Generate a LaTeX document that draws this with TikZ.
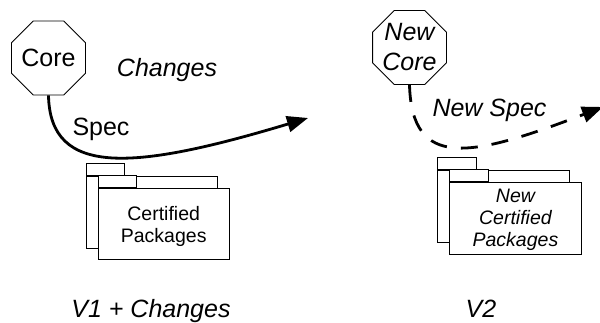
\documentclass[tikz,border=0pt]{standalone}
\usepackage{fontspec}
\setmainfont{Liberation Sans}
\usetikzlibrary{shapes.geometric,arrows.meta}
\begin{document}
\begin{tikzpicture}[x=1pt,y=-1pt,
  oct/.style={draw, line width=0.9pt, regular polygon, regular polygon sides=8, minimum size=80pt, inner sep=0pt, fill=white},
  big/.style={font=\fontsize{25}{30}\selectfont, inner sep=0pt},
  bigit/.style={font=\fontsize{25}{30}\selectfont\itshape, inner sep=0pt, align=center},
  pkgbox/.style={draw, line width=0.9pt, fill=white, inner sep=0pt},
  pkgtext/.style={font=\fontsize{19.5}{22}\selectfont, align=center, inner sep=0pt},
  conn/.style={line width=2.8pt, -{Triangle[length=21pt,width=16pt]}},
]
\useasboundingbox (0,0) rectangle (600,323);
% ---------- left: V1 + Changes ----------
\node[oct] (lcore) at (48.5,58) {};
\node[big, anchor=base] (lcoretxt) at (48.5,67) {Core};
\node[pkgbox, anchor=north west, minimum width=131pt, minimum height=72pt] (lbackbody) at (86,176) {};
\node[pkgbox, anchor=south west, minimum width=38pt, minimum height=12pt] (lbacktab) at (86,176) {};
\node[pkgbox, anchor=north west, minimum width=131.5pt, minimum height=71pt] (lfront) at (97.5,188) {};
\node[pkgbox, anchor=south west, minimum width=38.5pt, minimum height=12pt] (lfronttab) at (97.5,188) {};
\node[pkgtext] (lpkgtxt) at ([yshift=-2.5pt]lfront.center) {Certified\\Packages};
\node[bigit, anchor=base] (changes) at (167,77) {Changes};
\node[big, anchor=base] (spec) at (101,136) {Spec};
\node[bigit, anchor=base] (v1) at (151,317) {V1 + Changes};
\coordinate (ltip) at (308,118);
\draw[conn] (lcore.south) .. controls (50,178) and (135,170) .. (ltip);
% ---------- right: V2 ----------
\node[oct] (rcore) at (409.5,47.5) {};
\node[bigit] (rcoretxt) at (409.5,47.5) {New\\Core};
\node[pkgbox, anchor=north west, minimum width=132pt, minimum height=72pt] (rbackbody) at (437,170) {};
\node[pkgbox, anchor=south west, minimum width=39pt, minimum height=12pt] (rbacktab) at (437,170) {};
\node[pkgbox, anchor=north west, minimum width=132pt, minimum height=72pt] (rfront) at (449,182) {};
\node[pkgbox, anchor=south west, minimum width=39pt, minimum height=12pt] (rfronttab) at (449,182) {};
\node[pkgtext, font=\fontsize{19.5}{22}\selectfont\itshape] (rpkgtxt) at ([yshift=-1.5pt]rfront.center) {New\\Certified\\Packages};
\node[bigit, anchor=base] (newspec) at (489.5,117) {New Spec};
\node[bigit, anchor=base] (v2) at (481,317) {V2};
\coordinate (rtip) at (603,107);
\draw[conn, dash pattern=on 17pt off 14pt] (rcore.south) .. controls (412,170) and (470,158) .. (rtip);
\end{tikzpicture}
\end{document}
